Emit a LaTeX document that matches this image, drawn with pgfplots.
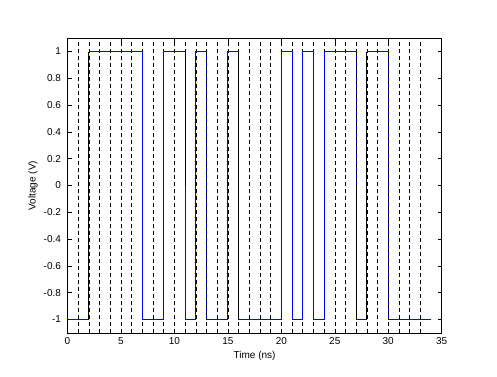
\documentclass[border=0pt]{standalone}
\usepackage{pgfplots}
\pgfplotsset{compat=1.18}
\usepackage{fontspec}
\setmainfont{Liberation Sans}
\definecolor{mblue}{rgb}{0,0,1}
\begin{document}
\fontsize{10pt}{12pt}\selectfont
\begin{tikzpicture}
\useasboundingbox (0,0) rectangle (497pt,376pt);
\begin{axis}[
  at={(67.5pt,43.1pt)}, anchor=south west,
  scale only axis, width=374.2pt, height=294.8pt,
  xmin=0, xmax=35, ymin=-1.1, ymax=1.1,
  xtick={0,5,...,35},
  minor xtick={1,...,33},
  ytick={-1,-0.8,-0.6,-0.4,-0.2,0,0.2,0.4,0.6,0.8,1},
  yticklabels={-1,-0.8,-0.6,-0.4,-0.2,0,0.2,0.4,0.6,0.8,1},
  tick align=inside,
  major tick length=4pt, minor tick length=0pt,
  xmajorgrids, xminorgrids,
  grid style={black, line width=0.5pt, dash pattern=on 4pt off 3pt},
  minor grid style={black, line width=0.5pt, dash pattern=on 4pt off 3pt},
  axis line style={black, line width=0.5pt},
  every tick/.style={black, line width=0.5pt},
  /pgf/number format/assume math mode=true,
  tick label style={font=\fontsize{10pt}{12pt}\selectfont},
  yticklabel style={xshift=-3pt},
  xticklabel style={yshift=-1pt},
  xlabel={Time (ns)}, ylabel={Voltage (V)},
  label style={font=\fontsize{10pt}{12pt}\selectfont},
  xlabel style={at={(axis description cs:0.5,-0.078)}, anchor=center},
  ylabel style={at={(axis description cs:-0.092,0.5)}, anchor=center, rotate=0},
  unbounded coords=jump,
  clip=false,
]
% blue waveform
\addplot[mblue, line width=1pt, mark=none] coordinates {
 (0,-1) (2,-1) (2,nan)
 (2,1) (7,1) (7,-1) (9,-1) (9,1) (11,1) (11,nan)
 (11,0) (11,-1) (12,-1) (12,1) (13,1) (13,-1) (15,-1) (15,1) (16,1) (16,nan)
 (16,-1) (20,-1) (20,1) (21,1) (21,-1) (22,-1) (22,1) (23,1) (23,-1) (24,-1) (24,1) (27,1) (27,0) (27,nan)
 (27,-1) (28,-1) (28,nan)
 (28,1) (30,1) (30,-1) (34,-1)
};
% black transitions
\addplot[black, line width=0.8pt, mark=none] coordinates {
 (2,-1) (2,1) (2,nan)
 (11,1) (11,0) (11,nan)
 (16,1) (16,-1) (16,nan)
 (27,0) (27,-1) (27,nan)
 (28,-1) (28,1)
};
% dashed boundaries drawn over some transitions
\addplot[black, line width=0.5pt, dash pattern=on 4pt off 3pt, mark=none] coordinates {
 (13,1) (13,-1) (13,nan)
 (27,1) (27,0) (27,nan)
 (30,1) (30,-1)
};
\end{axis}
\end{tikzpicture}
\end{document}
